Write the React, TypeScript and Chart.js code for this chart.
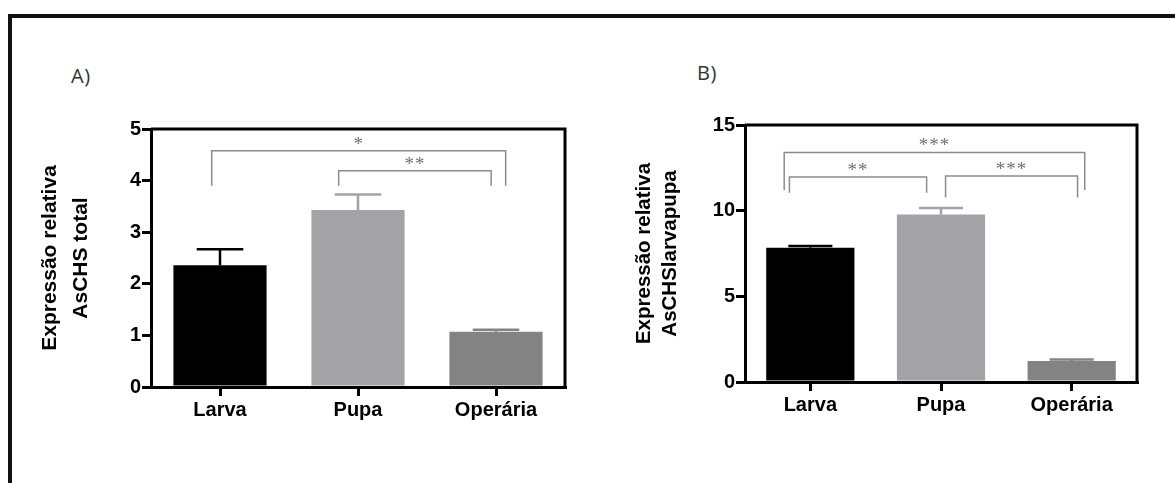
import React, { useEffect, useRef } from "react";
import { Chart, registerables } from "chart.js";

Chart.register(...registerables);

const FONT = "'Liberation Sans', Arial, sans-serif";

const stages = ["Larva", "Pupa", "Operária"];
const stageColors = ["#000000", "#a3a3a7", "#838383"];

// Panel A: AsCHS total (mean + SEM)
const totalMean = [2.36, 3.43, 1.07];
const totalSem = [0.31, 0.3, 0.04];
const totalMax = 5;
const totalStep = 1;
const totalTitle = ["Expressão relativa", "AsCHS total"];
// significance brackets (category positions, y values, label)
const totalBracketFrom = [-0.06, 0.86];
const totalBracketTo = [2.07, 1.965];
const totalBracketLevel = [4.58, 4.19];
const totalBracketFoot = [3.9, 3.9];
const totalBracketLabel = ["*", "**"];

// Panel B: AsCHSlarvapupa (mean + SEM)
const lpMean = [7.83, 9.78, 1.23];
const lpSem = [0.11, 0.38, 0.08];
const lpMax = 15;
const lpStep = 5;
const lpTitle = ["Expressão relativa", "AsCHSlarvapupa"];
const lpBracketFrom = [-0.2, -0.16, 1.035];
const lpBracketTo = [2.1, 0.89, 2.045];
const lpBracketLevel = [13.4, 11.97, 12.02];
const lpBracketFoot = [11.2, 11.04, 10.77];
const lpBracketLabel = ["***", "**", "***"];

type PanelProps = {
  left: number;
  top: number;
  width: number;
  height: number;
  yWidth: number;
  xHeight: number;
  padTop: number;
  padRight: number;
  means: number[];
  sem: number[];
  max: number;
  step: number;
  title: string[];
  titleSize: number;
  titleLineHeight: number;
  titlePad: number;
  bFrom: number[];
  bTo: number[];
  bLevel: number[];
  bFoot: number[];
  bLabel: string[];
};

function makeOverlay(p: PanelProps) {
  return {
    id: "semAndBrackets",
    afterDatasetsDraw(chart: any) {
      const { ctx, chartArea, scales } = chart;
      const xs = scales.x;
      const ys = scales.y;
      const meta = chart.getDatasetMeta(0);
      ctx.save();
      // SEM error bars (upper only)
      meta.data.forEach((bar: any, i: number) => {
        const b = bar.getProps(["x", "y", "width"], true);
        const top = ys.getPixelForValue(p.means[i] + p.sem[i]);
        ctx.strokeStyle = stageColors[i];
        ctx.lineWidth = 2.5;
        ctx.beginPath();
        ctx.moveTo(b.x, b.y);
        ctx.lineTo(b.x, top);
        ctx.moveTo(b.x - b.width / 4, top);
        ctx.lineTo(b.x + b.width / 4, top);
        ctx.stroke();
      });
      // significance brackets
      ctx.strokeStyle = "#8c8c8c";
      ctx.lineWidth = 1.5;
      ctx.fillStyle = "#707070";
      ctx.font = "19px 'Liberation Serif', serif";
      ctx.textAlign = "center";
      ctx.textBaseline = "alphabetic";
      (ctx as any).letterSpacing = "1px";
      p.bFrom.forEach((f, k) => {
        const x0 = xs.getPixelForValue(f);
        const x1 = xs.getPixelForValue(p.bTo[k]);
        const yl = ys.getPixelForValue(p.bLevel[k]);
        const yf = ys.getPixelForValue(p.bFoot[k]);
        ctx.beginPath();
        ctx.moveTo(x0, yf);
        ctx.lineTo(x0, yl);
        ctx.lineTo(x1, yl);
        ctx.lineTo(x1, yf);
        ctx.stroke();
        ctx.fillText(p.bLabel[k], (x0 + x1) / 2, yl - 1);
      });
      (ctx as any).letterSpacing = "0px";
      // top and right sides of the plot box
      ctx.strokeStyle = "#000";
      ctx.lineWidth = 3;
      ctx.beginPath();
      ctx.moveTo(chartArea.left, chartArea.top);
      ctx.lineTo(chartArea.right, chartArea.top);
      ctx.lineTo(chartArea.right, chartArea.bottom);
      ctx.stroke();
      ctx.restore();
    },
  };
}

function Panel(p: PanelProps) {
  const ref = useRef<HTMLCanvasElement>(null);
  useEffect(() => {
    if (!ref.current) return;
    const chart = new Chart(ref.current, {
      type: "bar",
      data: {
        labels: stages,
        datasets: [
          {
            data: p.means,
            backgroundColor: stageColors,
            borderWidth: 0,
            barPercentage: 0.675,
            categoryPercentage: 1,
          },
        ],
      },
      options: {
        responsive: false,
        animation: false,
        layout: { padding: { top: p.padTop, right: p.padRight, left: 0, bottom: 0 } },
        plugins: { legend: { display: false }, tooltip: { enabled: false } },
        scales: {
          x: {
            z: 1,
            grid: {
              display: true,
              drawOnChartArea: false,
              offset: false,
              tickLength: 9,
              lineWidth: 3,
              color: "#000",
            },
            border: { display: true, width: 3, color: "#000" },
            ticks: {
              color: "#000",
              font: { family: FONT, size: 20, weight: "bold" },
              padding: 2,
              maxRotation: 0,
            },
            afterFit: (s: any) => {
              s.height = p.xHeight;
            },
          },
          y: {
            z: 1,
            min: 0,
            max: p.max,
            grid: {
              display: true,
              drawOnChartArea: false,
              tickLength: 9,
              lineWidth: 3,
              color: "#000",
            },
            border: { display: true, width: 3, color: "#000" },
            ticks: {
              stepSize: p.step,
              color: "#000",
              font: { family: FONT, size: 20, weight: "bold" },
              padding: 1,
            },
            title: {
              display: true,
              text: p.title,
              color: "#000",
              font: { family: FONT, size: p.titleSize, weight: "bold", lineHeight: p.titleLineHeight },
              padding: { top: p.titlePad, bottom: 0 },
            },
            afterFit: (s: any) => {
              s.width = p.yWidth;
            },
          },
        },
      },
      plugins: [makeOverlay(p)],
    } as any);
    return () => chart.destroy();
  }, []);
  return (
    <canvas
      ref={ref}
      width={p.width}
      height={p.height}
      style={{ position: "absolute", left: p.left, top: p.top, width: p.width, height: p.height }}
    />
  );
}

const labelStyle: React.CSSProperties = {
  position: "absolute",
  fontFamily: "'Open Sans', sans-serif",
  fontSize: 20,
  lineHeight: "22px",
  color: "#333",
  letterSpacing: 0.5,
};

export default function App() {
  return (
    <div
      style={{
        position: "absolute",
        left: 0,
        top: 0,
        width: 1175,
        height: 483,
        overflow: "hidden",
        background: "#fff",
      }}
    >
      <div
        style={{
          position: "absolute",
          left: 8,
          top: 14,
          width: 1300,
          height: 600,
          borderTop: "4px solid #111",
          borderLeft: "4px solid #111",
        }}
      />
      <div style={{ ...labelStyle, left: 71, top: 65 }}>A)</div>
      <div style={{ ...labelStyle, left: 697, top: 62 }}>B)</div>
      <Panel
        left={20}
        top={100}
        width={580}
        height={350}
        yWidth={131}
        xHeight={63}
        padTop={29}
        padRight={35}
        means={totalMean}
        sem={totalSem}
        max={totalMax}
        step={totalStep}
        title={totalTitle}
        titleSize={21}
        titleLineHeight={1.48}
        titlePad={14.5}
        bFrom={totalBracketFrom}
        bTo={totalBracketTo}
        bLevel={totalBracketLevel}
        bFoot={totalBracketFoot}
        bLabel={totalBracketLabel}
      />
      <Panel
        left={600}
        top={100}
        width={570}
        height={350}
        yWidth={145}
        xHeight={68}
        padTop={25}
        padRight={33}
        means={lpMean}
        sem={lpSem}
        max={lpMax}
        step={lpStep}
        title={lpTitle}
        titleSize={20.5}
        titleLineHeight={1.25}
        titlePad={32}
        bFrom={lpBracketFrom}
        bTo={lpBracketTo}
        bLevel={lpBracketLevel}
        bFoot={lpBracketFoot}
        bLabel={lpBracketLabel}
      />
    </div>
  );
}
